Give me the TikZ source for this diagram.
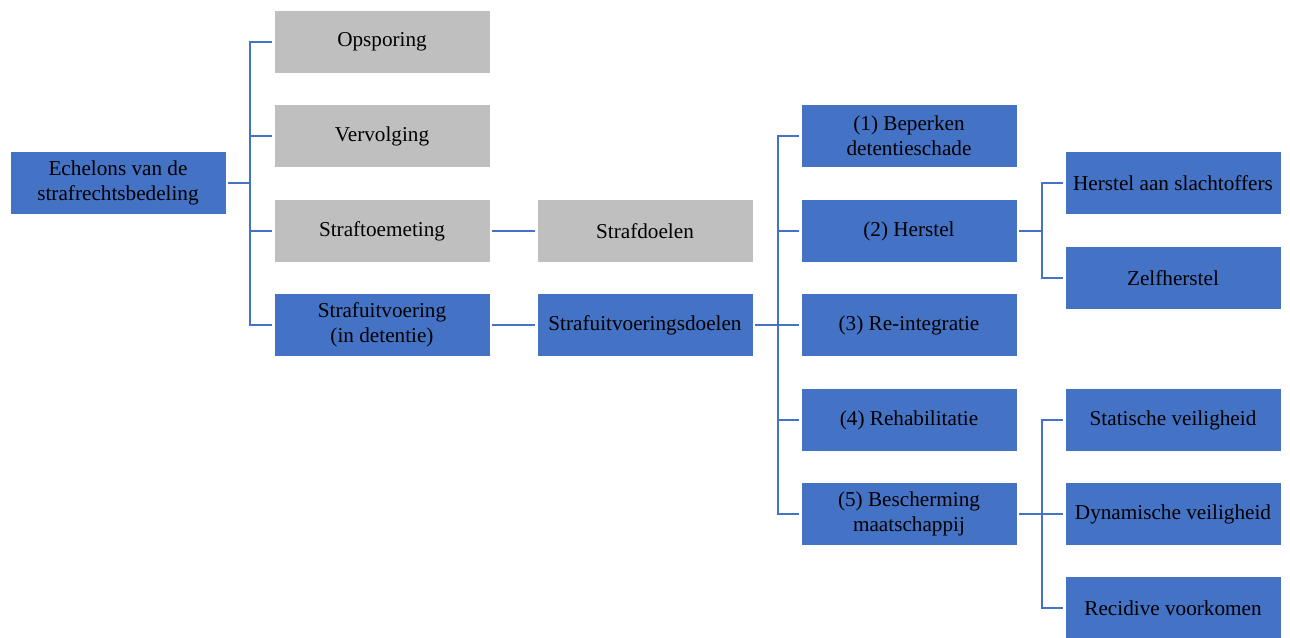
\documentclass[tikz,border=0pt]{standalone}
\usepackage{fontspec}
\setmainfont{Liberation Serif}

\definecolor{blauw}{HTML}{4472C4}
\definecolor{grijs}{HTML}{BFBFBF}
\definecolor{lijnblauw}{HTML}{4472C4}

\tikzset{
    blok/.style={rectangle, fill=blauw, draw=white, line width=0.5pt,
        minimum width=108pt, minimum height=31.5pt, inner sep=0pt,
        outer sep=1pt, align=center,
        font=\fontsize{10.6}{12.5}\selectfont},
    grijsblok/.style={blok, fill=grijs},
    lijn/.style={draw=lijnblauw, line width=1.2pt}
}

\begin{document}
\begin{tikzpicture}[x=0.5pt,y=-0.5pt]
        \useasboundingbox (0,0) rectangle (1290,637);

        \node[blok] (E) at (118,183) {Echelons van de\\strafrechtsbedeling};

        \node[grijsblok] (O) at (382,42) {Opsporing};
        \node[grijsblok] (V) at (382,136) {Vervolging};
        \node[grijsblok] (T) at (382,231) {Straftoemeting};
        \node[blok] (U) at (382,325) {Strafuitvoering\\(in detentie)};

        \node[grijsblok] (SD) at (645,231) {Strafdoelen};
        \node[blok] (UD) at (645,325) {Strafuitvoeringsdoelen};

        \node[blok] (B1) at (909,136) {(1) Beperken\\detentieschade};
        \node[blok] (B2) at (909,231) {(2) Herstel};
        \node[blok] (B3) at (909,325) {(3) Re-integratie};
        \node[blok] (B4) at (909,420) {(4) Rehabilitatie};
        \node[blok] (B5) at (909,514) {(5) Bescherming\\maatschappij};

        \node[blok] (HS) at (1173,183) {Herstel aan slachtoffers};
        \node[blok] (ZH) at (1173,278) {Zelfherstel};

        \node[blok] (SV) at (1173,420) {Statische veiligheid};
        \node[blok] (DV) at (1173,514) {Dynamische veiligheid};
        \node[blok] (RV) at (1173,608) {Recidive voorkomen};

        % Knooppunten
        \coordinate (J1) at (250,183);
        \coordinate (J2) at (778,325);
        \coordinate (J3) at (1042,231);
        \coordinate (J4) at (1042,514);

        % Lijnen
        \draw[lijn] (E) -- (J1);
        \draw[lijn] (J1) |- (O);
        \draw[lijn] (J1) |- (V);
        \draw[lijn] (J1) |- (T);
        \draw[lijn] (J1) |- (U);

        \draw[lijn] (T) -- (SD);
        \draw[lijn] (U) -- (UD);

        \draw[lijn] (UD) -- (J2);
        \draw[lijn] (J2) |- (B1);
        \draw[lijn] (J2) |- (B2);
        \draw[lijn] (J2) -- (B3);
        \draw[lijn] (J2) |- (B4);
        \draw[lijn] (J2) |- (B5);

        \draw[lijn] (B2) -- (J3);
        \draw[lijn] (J3) |- (HS);
        \draw[lijn] (J3) |- (ZH);

        \draw[lijn] (B5) -- (J4);
        \draw[lijn] (J4) |- (SV);
        \draw[lijn] (J4) -- (DV);
        \draw[lijn] (J4) |- (RV);
    \end{tikzpicture}
\end{document}
